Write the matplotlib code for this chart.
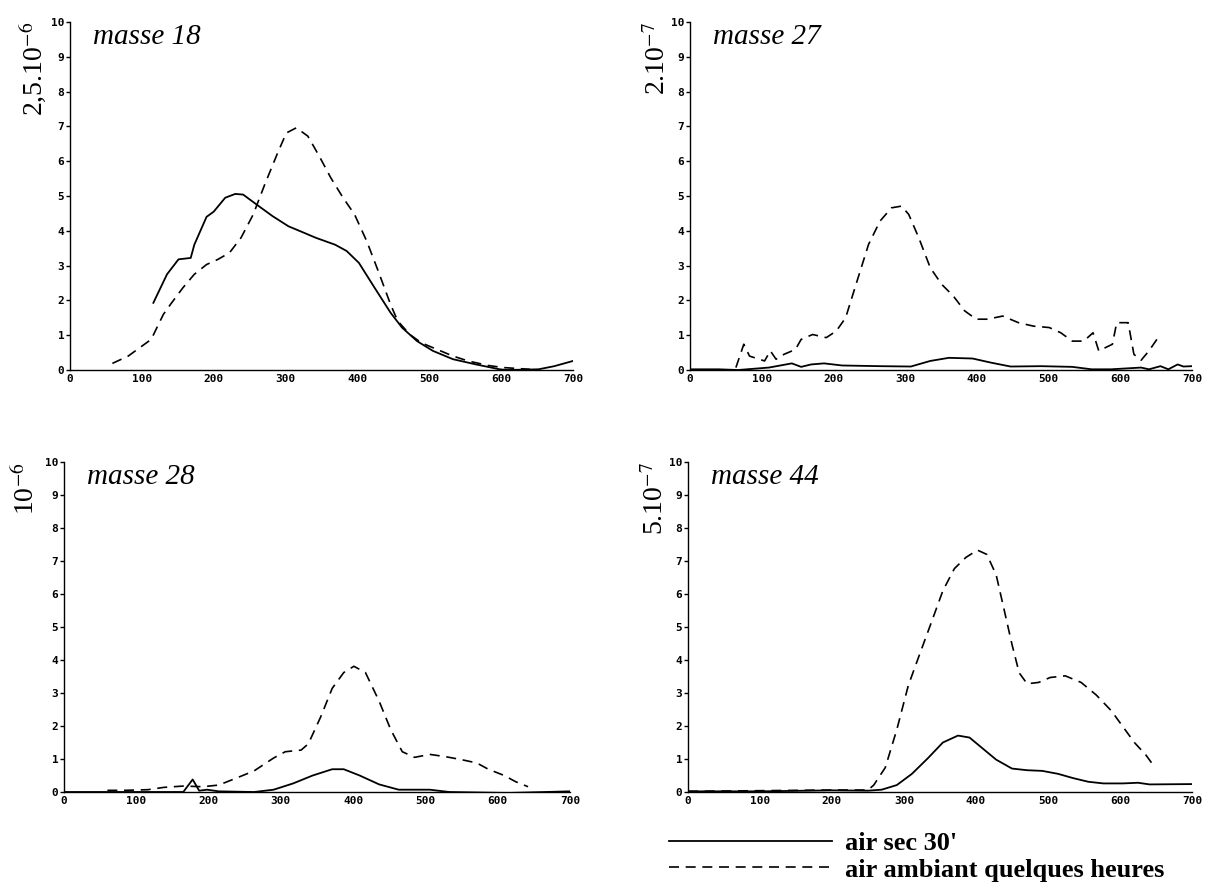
import numpy as np
import matplotlib
matplotlib.use("Agg")
import matplotlib.pyplot as plt

plt.rcParams['mathtext.fontset'] = 'stix'

# ---- data (x: 0..700, y: 0..10 relative units) ----
titles = ['masse 18', 'masse 27', 'masse 28', 'masse 44']
scales = [r'2,5.10$^{\mathrm{-6}}$', r'2.10$^{\mathrm{-7}}$', r'10$^{\mathrm{-6}}$', r'5.10$^{\mathrm{-7}}$']

# masse 18
m18_sec_x = [116, 135, 151, 168, 173, 190, 200, 216, 230, 241, 260, 282, 304, 326, 342,
             369, 385, 402, 424, 446, 462, 483, 505, 533, 565, 598, 609, 652, 674, 700]
m18_sec_y = [1.93, 2.75, 3.18, 3.22, 3.6, 4.4, 4.55, 4.95, 5.06, 5.04, 4.75, 4.42, 4.13, 3.94, 3.8,
             3.6, 3.42, 3.08, 2.36, 1.65, 1.22, 0.83, 0.55, 0.31, 0.16, 0.02, 0.0, 0.02, 0.11, 0.26]
m18_amb_x = [59, 81, 97, 113, 121, 130, 140, 157, 173, 190, 206, 222, 238, 255, 271, 288, 301, 315, 331,
             347, 363, 380, 396, 413, 429, 446, 456, 473, 489, 511, 533, 554, 582, 603, 625, 640]
m18_amb_y = [0.19, 0.4, 0.64, 0.88, 1.22, 1.6, 1.89, 2.36, 2.75, 3.03, 3.18, 3.37, 3.8, 4.47, 5.33, 6.19,
             6.81, 6.96, 6.72, 6.14, 5.52, 4.95, 4.47, 3.7, 2.84, 1.89, 1.41, 1.02, 0.78, 0.59, 0.40, 0.26,
             0.13, 0.07, 0.04, 0.02]

# masse 27
m27_sec_x = [0, 40, 67, 110, 126, 142, 155, 169, 187, 212, 265, 308, 335, 361, 394, 420, 447, 490, 533,
             560, 587, 629, 640, 656, 667, 680, 688, 700]
m27_sec_y = [0.02, 0.02, 0, 0.07, 0.13, 0.19, 0.09, 0.16, 0.19, 0.13, 0.11, 0.1, 0.26, 0.35, 0.33, 0.21,
             0.1, 0.11, 0.09, 0.02, 0.02, 0.07, 0.02, 0.11, 0.02, 0.16, 0.1, 0.11]
m27_amb_x = [64, 75, 83, 104, 112, 120, 131, 147, 155, 171, 190, 204, 217, 233, 249, 265, 281, 295, 305,
             319, 335, 351, 367, 383, 399, 415, 436, 458, 479, 501, 517, 533, 549, 562, 570, 589, 595,
             611, 619, 629, 640, 651]
m27_amb_y = [0.07, 0.74, 0.4, 0.26, 0.55, 0.31, 0.45, 0.59, 0.88, 1.02, 0.93, 1.12, 1.5, 2.56, 3.61, 4.28,
             4.66, 4.71, 4.47, 3.8, 2.94, 2.46, 2.13, 1.70, 1.46, 1.46, 1.55, 1.36, 1.26, 1.22, 1.07, 0.83,
             0.83, 1.07, 0.55, 0.74, 1.36, 1.36, 0.45, 0.28, 0.55, 0.88]

# masse 28
m28_sec_x = [0, 165, 178, 187, 198, 214, 263, 290, 317, 344, 371, 387, 409, 436, 463, 506, 533, 614, 700]
m28_sec_y = [0, 0, 0.38, 0.04, 0.07, 0.02, 0, 0.07, 0.26, 0.5, 0.69, 0.69, 0.5, 0.23, 0.07, 0.07, 0, -0.03, 0.02]
m28_amb_x = [60, 84, 116, 138, 165, 192, 214, 236, 263, 290, 306, 328, 338, 355, 371, 387, 401, 417, 436,
             452, 468, 485, 506, 528, 550, 571, 587, 609, 625, 642]
m28_amb_y = [0.05, 0.05, 0.07, 0.14, 0.18, 0.16, 0.21, 0.4, 0.64, 1.03, 1.22, 1.27, 1.46, 2.27, 3.14, 3.62,
             3.81, 3.62, 2.75, 1.89, 1.22, 1.05, 1.14, 1.07, 0.98, 0.88, 0.69, 0.5, 0.31, 0.16]

# masse 44
m44_sec_x = [0, 100, 200, 250, 269, 290, 311, 333, 354, 375, 391, 407, 428, 450, 471, 492, 514, 535, 556,
             577, 604, 625, 641, 700]
m44_sec_y = [0.02, 0.02, 0.05, 0.04, 0.07, 0.21, 0.55, 1.02, 1.5, 1.71, 1.65, 1.36, 0.98, 0.71, 0.66, 0.64,
             0.55, 0.42, 0.31, 0.26, 0.26, 0.28, 0.23, 0.24]
m44_amb_x = [0, 100, 200, 250, 258, 274, 290, 306, 322, 338, 354, 370, 386, 402, 415, 428, 439, 450, 460,
             471, 487, 503, 524, 546, 567, 588, 604, 620, 636, 647]
m44_amb_y = [0.02, 0.04, 0.06, 0.06, 0.21, 0.74, 1.89, 3.23, 4.19, 5.14, 6.1, 6.77, 7.11, 7.33, 7.2, 6.58,
             5.53, 4.47, 3.61, 3.28, 3.32, 3.47, 3.52, 3.32, 2.94, 2.46, 1.98, 1.5, 1.12, 0.79]

series = [(m18_sec_x, m18_sec_y, m18_amb_x, m18_amb_y),
          (m27_sec_x, m27_sec_y, m27_amb_x, m27_amb_y),
          (m28_sec_x, m28_sec_y, m28_amb_x, m28_amb_y),
          (m44_sec_x, m44_sec_y, m44_amb_x, m44_amb_y)]

# axes rectangles [left, bottom, width, height] in figure fractions
W, H = 1213.0, 892.0
rects = [[70 / W, (H - 370) / H, 503 / W, 348 / H],
         [690 / W, (H - 370) / H, 502 / W, 348 / H],
         [64 / W, (H - 792) / H, 506 / W, 330 / H],
         [688 / W, (H - 792) / H, 504 / W, 330 / H]]

fig = plt.figure(figsize=(12.13, 8.92), dpi=100)

for i in range(4):
    ax = fig.add_axes(rects[i])
    sx, sy, ax_, ay = series[i]
    l1, = ax.plot(sx, sy, color='black', lw=1.3, label="air sec 30'")
    l2, = ax.plot(ax_, ay, color='black', lw=1.2, linestyle=(0, (6, 4)),
                  label='air ambiant quelques heures')
    ax.set_xlim(0, 700)
    ax.set_ylim(0, 10)
    ax.set_xticks(range(0, 701, 100))
    ax.set_yticks(range(0, 11))
    for s in ['top', 'right']:
        ax.spines[s].set_visible(False)
    for s in ['left', 'bottom']:
        ax.spines[s].set_linewidth(1.0)
    ax.tick_params(axis='y', direction='out', length=3, width=1, pad=1, labelsize=8)
    ax.tick_params(axis='x', direction='out', length=0, pad=3, labelsize=8)
    for lab in ax.get_xticklabels() + ax.get_yticklabels():
        lab.set_fontfamily('DejaVu Sans Mono')
        lab.set_fontweight('bold')
    ax.text(0.045, 0.995, titles[i], transform=ax.transAxes, va='top', ha='left',
            fontsize=21, fontstyle='italic', family='Liberation Serif')
    ax.text(-0.075 if i % 2 == 0 else -0.065, 1.0, scales[i], transform=ax.transAxes,
            rotation=90, va='top', ha='center', fontsize=20, family='Liberation Serif')

    if i == 3:
        ax.legend(handles=[l1, l2], loc='upper left', bbox_to_anchor=(-0.075, -0.065),
                  frameon=False, handlelength=6.2, handletextpad=0.5, labelspacing=0.1,
                  borderpad=0.2,
                  prop={'family': 'Liberation Serif', 'weight': 'bold', 'size': 19})

fig.savefig('out.png', dpi=100)
